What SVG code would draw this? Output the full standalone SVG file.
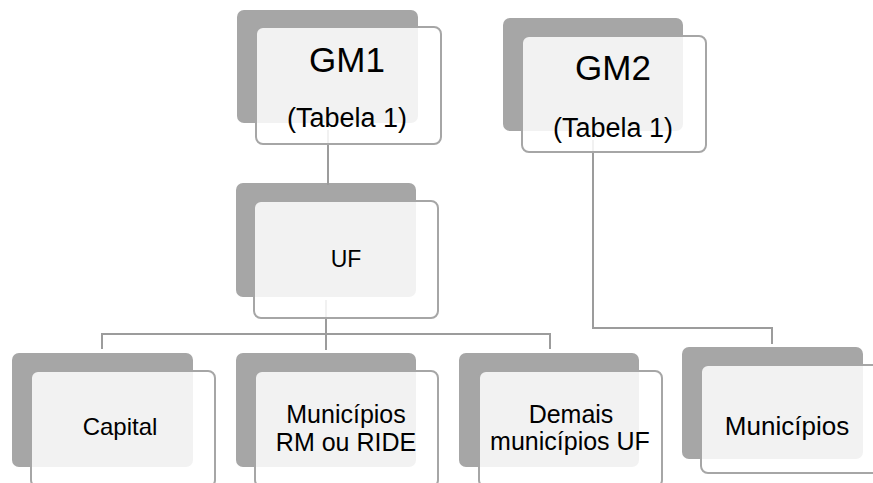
<svg xmlns="http://www.w3.org/2000/svg" width="873" height="483" viewBox="0 0 873 483">
<style>
.back{fill:#a6a6a6;}
.front{fill:#ffffff;fill-opacity:0.855;stroke:#a6a6a6;stroke-width:2;}
.conn{fill:none;stroke:#9c9c9c;stroke-width:2;}
text{font-family:"Liberation Sans",Arial,sans-serif;fill:#000;text-anchor:middle;}
</style>
<rect width="873" height="483" fill="#ffffff"/>
<g id="shadows">
<rect class="back" x="237" y="10" width="181" height="113" rx="7"/>
<rect class="back" x="503" y="18" width="180" height="113" rx="7"/>
<rect class="back" x="236" y="183" width="180" height="114" rx="7"/>
<rect class="back" x="12" y="353" width="181" height="114" rx="7"/>
<rect class="back" x="236" y="353" width="180" height="114" rx="7"/>
<rect class="back" x="459" y="353" width="180" height="114" rx="7"/>
<rect class="back" x="682" y="347" width="181" height="112" rx="7"/>
</g>
<g id="connectors">
<path class="conn" d="M328,130 V185"/>
<path class="conn" d="M326,300 V350"/>
<path class="conn" d="M102,349 V334 H550 V349"/>
<path class="conn" d="M593,140 V328 H772 V344"/>
</g>
<g id="gm1">
<rect class="front" x="256" y="27" width="185" height="117" rx="7"/>
<text x="347" y="72" font-size="35">GM1</text>
<text x="347" y="127" font-size="27">(Tabela 1)</text>
</g>
<g id="gm2">
<rect class="front" x="522" y="36" width="184" height="116" rx="7"/>
<text x="613" y="80" font-size="35">GM2</text>
<text x="613" y="137" font-size="27">(Tabela 1)</text>
</g>
<g id="uf">
<rect class="front" x="254" y="201" width="184" height="117" rx="7"/>
<text x="346" y="267" font-size="23">UF</text>
</g>
<g id="capital">
<rect class="front" x="31" y="371" width="184" height="116" rx="7"/>
<text x="120" y="435" font-size="24">Capital</text>
</g>
<g id="municipios-rm">
<rect class="front" x="255" y="371" width="183" height="116" rx="7"/>
<text x="346" y="423" font-size="25">Municípios</text>
<text x="346" y="451" font-size="25">RM ou RIDE</text>
</g>
<g id="demais">
<rect class="front" x="479" y="371" width="183" height="116" rx="7"/>
<text x="571" y="423" font-size="25">Demais</text>
<text x="570" y="450" font-size="25">municípios UF</text>
</g>
<g id="municipios">
<rect class="front" x="701" y="365" width="184" height="108" rx="7"/>
<text x="787" y="435" font-size="26">Municípios</text>
</g>
</svg>
